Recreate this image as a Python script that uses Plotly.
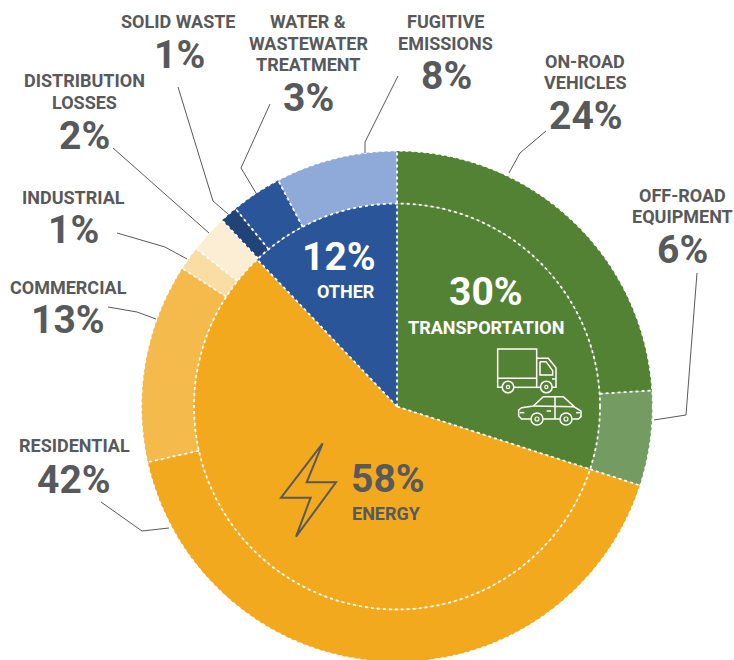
import math
import plotly.graph_objects as go

# --- data ---
outer_names = ['On-road vehicles', 'Off-road equipment', 'Residential', 'Commercial', 'Industrial',
               'Distribution losses', 'Solid waste', 'Water & wastewater treatment', 'Fugitive emissions']
outer_values = [24, 6, 41.5, 12.6, 1.5, 2.4, 1.1, 3.2, 7.7]
outer_colors = ['#548235', '#739B62', '#F2A91E', '#F4BA4C', '#FADCA5', '#FCEED5', '#214478', '#2A5599', '#8FAAD8']

inner_names = ['Transportation', 'Energy', 'Other']
inner_values = [30, 57.9, 12.1]
inner_colors = ['#548235', '#F2A91E', '#2A5599']

# the pie runs a little past the bottom of the window, as in the original
W, H = 734, 664
CX, CY = 397, 406.5
R_OUT, R_IN = 255.5, 203
GREY = '#58595B'


def fx(x):
    return x / W


def fy(y):
    return 1 - y / H


def edges(values):
    total, out = 0, []
    for v in values:
        total += v
        out.append(total / sum(values))
    return out


def polar(frac, r):
    a = frac * 2 * math.pi
    return CX + r * math.sin(a), CY - r * math.cos(a)


def path(points, close=False):
    s = 'M ' + ' L '.join(f'{fx(x):.5f},{fy(y):.5f}' for x, y in points)
    return s + (' Z' if close else '')


fig = go.Figure()
fig.add_trace(go.Pie(labels=outer_names, values=outer_values, sort=False, direction='clockwise', rotation=0,
                     hole=R_IN / R_OUT, textinfo='none', showlegend=False,
                     marker=dict(colors=outer_colors, line=dict(width=0)),
                     domain=dict(x=[fx(CX - R_OUT), fx(CX + R_OUT)], y=[fy(CY + R_OUT), fy(CY - R_OUT)])))
fig.add_trace(go.Pie(labels=inner_names, values=inner_values, sort=False, direction='clockwise', rotation=0,
                     textinfo='none', showlegend=False,
                     marker=dict(colors=inner_colors, line=dict(width=0)),
                     domain=dict(x=[fx(CX - R_IN), fx(CX + R_IN)], y=[fy(CY + R_IN), fy(CY - R_IN)])))

shapes = []


def line(points, color=GREY, width=1, dash='solid'):
    shapes.append(dict(type='path', path=path(points), xref='paper', yref='paper',
                       line=dict(color=color, width=width, dash=dash)))


def circle(cx, cy, r, color='white', width=1.5, dash='solid', fill=None):
    shapes.append(dict(type='circle', xref='paper', yref='paper',
                       x0=fx(cx - r), x1=fx(cx + r), y0=fy(cy + r), y1=fy(cy - r),
                       line=dict(color=color, width=width, dash=dash),
                       fillcolor=fill if fill else 'rgba(0,0,0,0)'))


# dotted white separators
for f in edges(outer_values):
    line([polar(f, R_IN), polar(f, R_OUT)], 'white', 1.8, 'dot')
for f in edges(inner_values):
    line([polar(f, 0), polar(f, R_IN)], 'white', 1.8, 'dot')
circle(CX, CY, R_IN, 'white', 1.8, 'dot')
circle(CX, CY, R_OUT, 'white', 1.2, 'dot')

# leader lines
leaders = [
    [(178, 87), (213, 201), (228, 214)],
    [(270, 104), (241, 168), (256, 193)],
    [(113, 148), (209, 233)],
    [(117, 233), (165, 247), (187, 259)],
    [(398, 76), (365, 142), (365, 153)],
    [(546, 131), (520, 153), (509, 173)],
    [(697, 273), (686, 415), (654, 420)],
    [(108, 307), (137, 312), (156, 319)],
    [(101, 502), (142, 531), (169, 528)],
]
for pts in leaders:
    line(pts)


def zoomed(pts, ox, oy):
    return [(ox + x / 3, oy + y / 3) for x, y in pts]


# bolt
bolt = zoomed([(158, 40), (110, 157), (198, 157), (78, 320), (122, 203), (33, 203)], 270, 430)
shapes.append(dict(type='path', path=path(bolt, True), xref='paper', yref='paper',
                   line=dict(color=GREY, width=2)))

# truck
TX, TY = 480, 330
line(zoomed([(66, 172), (53, 172), (53, 57), (170, 57), (170, 172)], TX, TY), 'white', 1.5)
line(zoomed([(53, 145), (170, 145)], TX, TY), 'white', 1.5)
line(zoomed([(102, 172), (181, 172)], TX, TY), 'white', 1.5)
line(zoomed([(170, 85), (205, 85), (228, 113), (228, 172), (217, 172)], TX, TY), 'white', 1.5)
line(zoomed([(180, 95), (198, 95), (218, 122), (218, 135), (180, 135), (180, 95)], TX, TY), 'white', 1.5)
line(zoomed([(216, 147), (228, 147)], TX, TY), 'white', 1.5)
for zx, zy in [(84, 171), (199, 171)]:
    px, py = zoomed([(zx, zy)], TX, TY)[0]
    circle(px, py, 5.8, 'white', 1.5, fill='#548235')
    circle(px, py, 1.6, 'white', 1.2)

# car
line(zoomed([(152, 267), (125, 267), (116, 258), (116, 240), (125, 233), (160, 228), (190, 200), (250, 200), (285, 232),
             (303, 243), (303, 260), (295, 267), (277, 267)], TX, TY), 'white', 1.5)
line(zoomed([(190, 267), (239, 267)], TX, TY), 'white', 1.5)
line(zoomed([(160, 228), (285, 230)], TX, TY), 'white', 1.5)
line(zoomed([(225, 200), (225, 267)], TX, TY), 'white', 1.5)
line(zoomed([(200, 243), (213, 243)], TX, TY), 'white', 1.5)
line(zoomed([(120, 248), (133, 248)], TX, TY), 'white', 1.5)
line(zoomed([(288, 248), (300, 248)], TX, TY), 'white', 1.5)
for zx, zy in [(171, 267), (258, 267)]:
    px, py = zoomed([(zx, zy)], TX, TY)[0]
    circle(px, py, 6, 'white', 1.5, fill='#548235')
    circle(px, py, 2, 'white', 1.2)

# --- labels ---
LABEL = 18
BIG = 39
LINE_GAP = 21.3
annotations = []


def text(x, y, s, size, color=GREY):
    annotations.append(dict(x=fx(x), y=fy(y), xref='paper', yref='paper', showarrow=False,
                            xanchor='center', yanchor='middle', align='center',
                            text=f'<b>{s}</b>', font=dict(family='Roboto', size=size, color=color)))


callouts = [
    (['SOLID WASTE'], 178, 22, '1%', 179, 55),
    (['WATER &', 'WASTEWATER', 'TREATMENT'], 308, 22, '3%', 308, 98),
    (['FUGITIVE', 'EMISSIONS'], 445, 22, '8%', 446, 76),
    (['ON-ROAD', 'VEHICLES'], 585, 61, '24%', 586, 116),
    (['OFF-ROAD', 'EQUIPMENT'], 682, 195, '6%', 682, 250),
    (['DISTRIBUTION', 'LOSSES'], 84, 81, '2%', 84, 136),
    (['INDUSTRIAL'], 73, 197, '1%', 73, 230),
    (['COMMERCIAL'], 68, 287, '13%', 68, 320),
    (['RESIDENTIAL'], 74, 445, '42%', 74, 480),
]
for names, lx, ly, pct, px, py in callouts:
    for i, name in enumerate(names):
        text(lx, ly + i * LINE_GAP, name, LABEL)
    text(px, py, pct, BIG)

text(486, 292, '30%', BIG, 'white')
text(485.5, 327, 'TRANSPORTATION', LABEL, 'white')
text(339, 257, '12%', BIG, 'white')
text(346, 292, 'OTHER', LABEL, 'white')
text(387.5, 479, '58%', BIG)
text(387, 513, 'ENERGY', LABEL)

fig.update_layout(width=W, height=H, margin=dict(l=0, r=0, t=0, b=0), paper_bgcolor='white',
                  showlegend=False, shapes=shapes, annotations=annotations)

# page flush with the window, no default body margin or scrollbar
fig.write_html("out.html", config={'displayModeBar': False},
               post_script="document.body.style.margin='0';document.documentElement.style.overflow='hidden';")
